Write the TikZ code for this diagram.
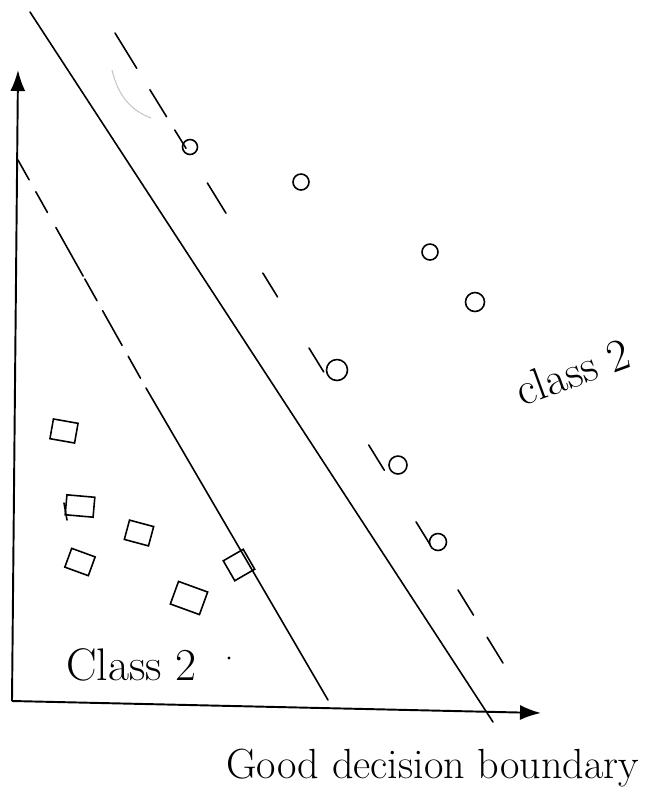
\documentclass[tikz,border=0pt]{standalone}
\usetikzlibrary{arrows.meta,calc}

\begin{document}
\begin{tikzpicture}[x=0.02cm, y=-0.02cm,
    pen/.style={black, line width=0.9pt, line cap=round},
    axis/.style={black, line width=1.1pt, -{Latex[length=0.42cm,width=0.3cm]}},
    ptc/.style={draw, circle, line width=0.9pt, inner sep=0pt, minimum size=#1},
    ptc/.default=0.32cm,
    pts/.style={draw, rectangle, line width=0.9pt, inner sep=0pt,
                minimum width=0.5cm, minimum height=0.4cm},
    hand/.style={font=\fontsize{26}{30}\selectfont, inner sep=0pt}]

  \useasboundingbox (0,0) rectangle (654,796);

  % axes
  \coordinate (O)  at (12,701);
  \coordinate (yt) at (18,70);
  \coordinate (xt) at (541,713);
  \draw[axis] (O) -- (yt);
  \draw[axis] (O) -- (xt);

  % decision boundary (solid)
  \coordinate (m1) at (30,12);
  \coordinate (m2) at (493,722);
  \draw[pen] (m1) -- (m2);

  % margin of class 2, dashed at the top
  \coordinate (l1) at (18,160);
  \coordinate (l2) at (146,388);
  \coordinate (l3) at (328,700);
  \foreach \a/\b in {0/0.087, 0.139/0.23, 0.296/0.509, 0.522/0.617,
                     0.661/0.813, 0.861/0.957}
    \draw[pen] ($(l1)!\a!(l2)$) -- ($(l1)!\b!(l2)$);
  \draw[pen] (l2) -- (l3);

  % margin of the circles, dashed
  \coordinate (r1) at (115,33);
  \coordinate (r2) at (503,663);
  \foreach \a/\b in {0/0.056, 0.09/0.133, 0.154/0.183, 0.238/0.286,
                     0.381/0.419, 0.5/0.538, 0.654/0.694, 0.776/0.813,
                     0.884/0.924, 0.959/1}
    \draw[pen] ($(r1)!\a!(r2)$) -- ($(r1)!\b!(r2)$);
  \draw[gray!45, line width=0.6pt] (112,70) .. controls (118,95) and (130,110) .. (151,118);

  % circles
  \node[ptc=0.3cm]  (c1) at (190,147) {};
  \node[ptc]        (c2) at (301,182) {};
  \node[ptc]        (c3) at (430,252) {};
  \node[ptc=0.38cm] (c4) at (475,302) {};
  \node[ptc=0.42cm] (c5) at (337,370) {};
  \node[ptc=0.36cm] (c6) at (398,465) {};
  \node[ptc=0.34cm] (c7) at (438,542) {};

  % squares
  \node[pts, rotate=-10] (s1) at (64,431) {};
  \node[pts, rotate=-5, minimum width=0.56cm] (s2) at (80,506) {};
  \draw[pen] (64,503) -- (67,520);
  \node[pts, rotate=-15] (s3) at (139,533) {};
  \node[pts, rotate=-20] (s4) at (80,562) {};
  \node[pts, rotate=-20, minimum width=0.62cm, minimum height=0.48cm] (s5) at (189,598) {};
  \node[pts, rotate=30, minimum width=0.46cm, minimum height=0.46cm] (s6) at (239,565) {};
  \fill (229,658) circle (1.6);

  % labels
  \node[hand, anchor=base west] (lab1) at (66,680) {Class 2};
  \node[hand, anchor=base west, rotate=20] (lab2) at (522,407) {class 2};
  \node[hand, anchor=base west, font=\fontsize{24}{28}\selectfont] (title) at (226,778)
       {Good decision boundary};
\end{tikzpicture}
\end{document}
